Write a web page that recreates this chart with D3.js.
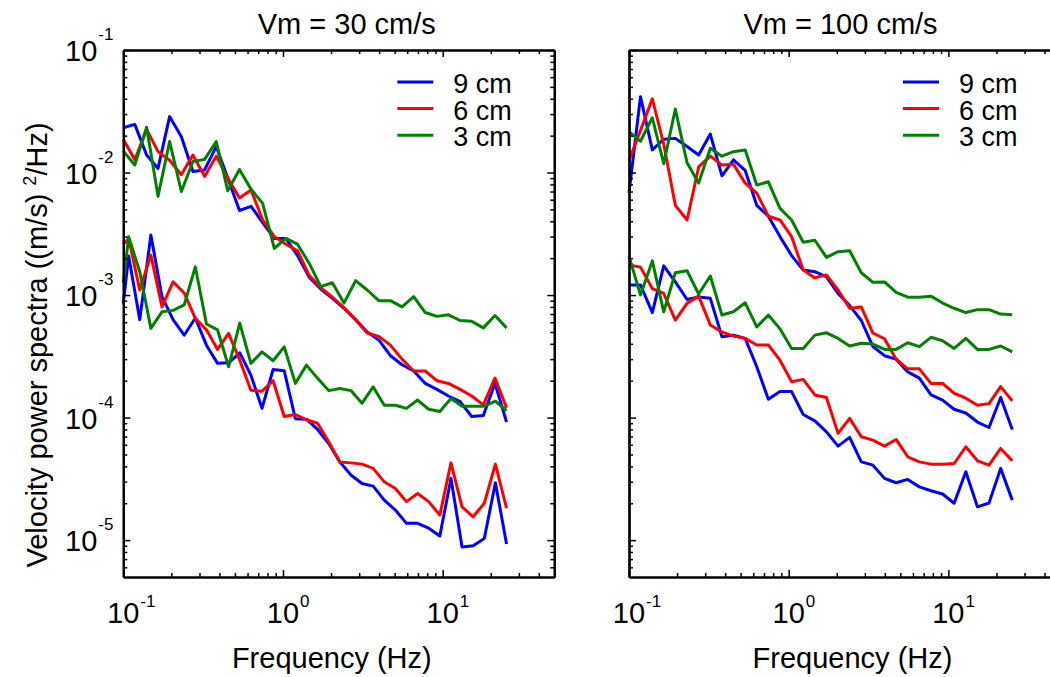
<!DOCTYPE html>
<html><head><meta charset="utf-8">
<script src="https://cdn.jsdelivr.net/npm/d3@7"></script>
<style>
body{margin:0;background:#fff}
text{font-family:"Liberation Sans",Arial,Helvetica,sans-serif;fill:#000}
</style>
</head><body>
<svg id="chart" width="1050" height="677"></svg>
<script>
// ---- data ----
const freq = [0.1,0.118,0.140,0.165,0.195,0.231,0.273,0.323,0.382,0.451,0.534,0.631,0.746,0.882,1.043,1.233,1.458,1.724,2.038,2.409,2.849,3.368,3.981,4.707,5.566,6.581,7.781,9.197,10.87,12.86,15.20,17.97,21.25,25.12];
const freqLow = [0.1,0.108,0.1268,0.1488,0.1747,0.2050,0.2406,0.2825,0.3316,0.3892,0.4568,0.5362,0.6295,0.7389,0.8673,1.018,1.195,1.403,1.647,1.933,2.269,2.663,3.126,3.670,4.308,5.056,5.935,6.966,8.177,9.598,11.27,13.22,15.52,18.22,21.39,25.11];

const seriesNames = ["9 cm","6 cm","3 cm"];
const seriesColors = ["#0000ff","#ff0000","#008000"];
const panelTitles = ["Vm = 30 cm/s","Vm = 100 cm/s"];
const xTickValues = [0.1,1,10];
const xTickExps = ["-1","0","1"];
const yTickValues = [1e-1,1e-2,1e-3,1e-4,1e-5];
const yTickExps = ["-1","-2","-3","-4","-5"];

// Vm = 30 cm/s, upper curves
const blue30Up = [0.0232,0.0247,0.0139,0.0108,0.0286,0.0196,0.0102,0.0105,0.0163,0.0090,0.0049,0.0053,0.0039,0.0029,0.0029,0.0021,0.0014,0.00112,0.00094,0.00078,0.00063,0.00050,0.00043,0.00032,0.00027,0.00024,0.00019,0.00017,0.00015,0.000135,0.000102,0.000104,0.00019,0.000092];
const red30Up = [0.0187,0.0127,0.0225,0.0148,0.0126,0.0096,0.0139,0.0093,0.0136,0.0090,0.0062,0.0072,0.0041,0.0030,0.0026,0.0023,0.00145,0.00115,0.00096,0.00079,0.00063,0.00049,0.00046,0.00039,0.00030,0.00024,0.00024,0.00020,0.00019,0.00017,0.00015,0.000127,0.00021,0.00012];
const green30Up = [0.0150,0.0115,0.0234,0.0064,0.0179,0.0070,0.0123,0.0128,0.0179,0.0071,0.0106,0.0073,0.0056,0.0024,0.0029,0.0026,0.00182,0.00117,0.00126,0.00086,0.00131,0.00110,0.00090,0.00090,0.00080,0.00097,0.00072,0.00067,0.00069,0.00062,0.00061,0.00054,0.00068,0.00054];
// Vm = 30 cm/s, lower curves
const blue30Low = [8.5e-4,2.08e-3,6.3e-4,3.09e-3,9.7e-4,6.3e-4,4.7e-4,6.5e-4,3.9e-4,2.77e-4,2.8e-4,3.38e-4,2.22e-4,1.19e-4,2.47e-4,2.41e-4,9.8e-5,9.7e-5,8.0e-5,6.15e-5,4.35e-5,3.4e-5,2.9e-5,2.76e-5,2.12e-5,1.76e-5,1.37e-5,1.37e-5,1.25e-5,1.08e-5,3.19e-5,8.8e-6,9.0e-6,1.03e-5,2.94e-5,9.3e-6];
const red30Low = [2.6e-3,2.9e-3,1.1e-3,2.12e-3,8.0e-4,1.28e-3,1.04e-3,6.45e-4,5.2e-4,3.6e-4,4.86e-4,2.94e-4,1.67e-4,1.64e-4,2.0e-4,1.02e-4,1.06e-4,9.6e-5,9.0e-5,6.35e-5,4.35e-5,4.27e-5,4.17e-5,3.85e-5,2.99e-5,2.64e-5,2.06e-5,2.4e-5,2.06e-5,1.6e-5,4.27e-5,1.87e-5,1.55e-5,2.0e-5,4.17e-5,1.82e-5];
const green30Low = [1.26e-3,2.99e-3,1.55e-3,5.35e-4,7.3e-4,7.5e-4,8.3e-4,1.7e-3,5.8e-4,5.2e-4,2.6e-4,5.9e-4,2.77e-4,3.44e-4,2.91e-4,3.78e-4,1.9e-4,2.68e-4,2.09e-4,1.66e-4,1.73e-4,1.66e-4,1.31e-4,1.78e-4,1.26e-4,1.26e-4,1.19e-4,1.39e-4,1.17e-4,1.12e-4,1.43e-4,1.24e-4,1.24e-4,1.24e-4,1.36e-4,1.14e-4];
// Vm = 100 cm/s, upper curves
const blue100Up = [0.0068,0.0416,0.0153,0.0187,0.0190,0.0163,0.0139,0.0206,0.0094,0.0127,0.0104,0.0054,0.0044,0.0030,0.0021,0.0016,0.00155,0.00141,0.00103,0.00082,0.00062,0.00038,0.00032,0.00030,0.000236,0.00021,0.000153,0.000139,0.000117,0.000109,0.000092,0.000083,0.000146,0.000080];
const red100Up = [0.0125,0.0220,0.0400,0.0170,0.0054,0.0041,0.0111,0.0136,0.0115,0.0117,0.0082,0.0068,0.0044,0.0041,0.0030,0.00160,0.00138,0.00146,0.00110,0.00078,0.00080,0.00049,0.00044,0.00030,0.00025,0.00025,0.00019,0.00019,0.000158,0.000144,0.000126,0.000130,0.000179,0.000137];
const green100Up = [0.0216,0.0180,0.0280,0.0118,0.0330,0.0120,0.0082,0.0158,0.0136,0.0148,0.0153,0.0079,0.0084,0.0051,0.0041,0.0027,0.0028,0.00203,0.00226,0.00230,0.00152,0.00127,0.00128,0.00105,0.00096,0.00096,0.00098,0.00086,0.00078,0.00072,0.00076,0.00076,0.00070,0.00069];
// Vm = 100 cm/s, lower curves
const blue100Low = [1.21e-3,1.21e-3,7.2e-4,1.73e-3,1.28e-3,9.2e-4,9.65e-4,9.4e-4,4.57e-4,4.7e-4,4.43e-4,2.6e-4,1.41e-4,1.63e-4,1.63e-4,1.06e-4,9.4e-5,7.65e-5,5.85e-5,6.9e-5,4.35e-5,4.09e-5,3.19e-5,2.94e-5,3.13e-5,2.72e-5,2.53e-5,2.38e-5,2.0e-5,3.61e-5,1.87e-5,2.01e-5,3.85e-5,2.12e-5];
const red100Low = [1.76e-3,1.69e-3,1.13e-3,1.03e-3,6.25e-4,8.55e-4,9.8e-4,5.7e-4,5.0e-4,4.62e-4,4.43e-4,3.91e-4,3.91e-4,2.94e-4,1.96e-4,2.05e-4,1.53e-4,1.46e-4,7.43e-5,9.85e-5,6.97e-5,6.55e-5,5.85e-5,6.63e-5,4.79e-5,4.35e-5,4.17e-5,4.17e-5,4.22e-5,5.78e-5,4.44e-5,4.09e-5,5.6e-5,4.44e-5];
const green100Low = [2.08e-3,1.0e-3,1.9e-3,7.3e-4,1.52e-3,1.58e-3,1.02e-3,1.43e-3,6.87e-4,7.3e-4,8.65e-4,5.5e-4,6.87e-4,5.3e-4,3.67e-4,3.67e-4,4.71e-4,4.92e-4,4.43e-4,3.84e-4,4.04e-4,3.98e-4,3.6e-4,3.6e-4,4.08e-4,3.79e-4,4.52e-4,4.24e-4,3.67e-4,4.43e-4,3.6e-4,3.6e-4,3.84e-4,3.44e-4];

// ---- layout ----
const svg = d3.select("#chart");
const topY = 50, bottomY = 577;
const plotW = 431;
const panels = [
  {left:123.3, title:panelTitles[0], titleDx:8, labelDx:-7, showY:true,
   groups:[{f:freq, vals:[blue30Up,red30Up,green30Up]},{f:freqLow, vals:[blue30Low,red30Low,green30Low]}]},
  {left:629, title:panelTitles[1], titleDx:-4, labelDx:8, showY:false,
   groups:[{f:freq, vals:[blue100Up,red100Up,green100Up]},{f:freq, vals:[blue100Low,red100Low,green100Low]}]}
];

const y = d3.scaleLog().domain([5e-6, 0.1]).range([bottomY, topY]);

function minorTicks(lo, hi){
  const out=[];
  for(let e=Math.floor(Math.log10(lo)); e<=Math.ceil(Math.log10(hi)); e++){
    for(let m=2;m<=9;m++){const v=m*Math.pow(10,e); if(v>lo*1.0001 && v<hi*0.9999) out.push(v);}
  }
  return out;
}

panels.forEach(p=>{
  const x = d3.scaleLog().domain([0.1, 50]).range([p.left, p.left+plotW]);
  const g = svg.append("g");
  const right = p.left+plotW;

  // lines
  const line = d3.line().x(d=>x(d[0])).y(d=>y(d[1]));
  for(let s=0;s<3;s++){
    p.groups.forEach(gr=>{
      g.append("path").datum(d3.zip(gr.f, gr.vals[s]))
        .attr("d", line).attr("fill","none")
        .attr("stroke", seriesColors[s]).attr("stroke-width",3)
        .attr("stroke-linejoin","round");
    });
  }

  // axes with inward ticks
  const xMinor = minorTicks(0.1, 50), yMinor = minorTicks(5e-6, 0.1);
  const yMajor = yTickValues;
  const mk = (axisFn, scale, vals, size) => axisFn(scale).tickValues(vals).tickSize(size).tickSizeOuter(0).tickFormat("");
  const axes = [
    [d3.axisBottom, x, `translate(0,${bottomY})`],
    [d3.axisTop, x, `translate(0,${topY})`],
    [d3.axisLeft, y, `translate(${p.left},0)`],
    [d3.axisRight, y, `translate(${right},0)`]
  ];
  axes.forEach(([fn, sc, tr], i)=>{
    const isX = i<2;
    const minorV = isX ? xMinor : yMinor;
    const majorV = isX ? xTickValues : yMajor;
    const a1 = g.append("g").attr("transform", tr).call(mk(fn, sc, majorV, -7));
    const a2 = g.append("g").attr("transform", tr).call(mk(fn, sc, minorV, -4));
    [a1,a2].forEach(a=>{
      a.selectAll(".tick line").attr("stroke","#000").attr("stroke-width",1.5);
      a.select(".domain").attr("stroke","#000").attr("stroke-width",2.2);
    });
  });

  // x tick labels
  xTickValues.forEach((v,i)=>{
    const px = x(v);
    g.append("text").attr("x",px).attr("y",623).attr("text-anchor","middle")
      .attr("font-size",29).text("10");
    g.append("text").attr("x",px+17).attr("y",607).attr("text-anchor","start")
      .attr("font-size",17).text(xTickExps[i]);
  });
  // y tick labels
  if(p.showY){
    yTickValues.forEach((v,i)=>{
      const py = y(v);
      g.append("text").attr("x",p.left-26).attr("y",py+11).attr("text-anchor","end")
        .attr("font-size",29).text("10");
      g.append("text").attr("x",p.left-25).attr("y",py-10).attr("text-anchor","start")
        .attr("font-size",17).text(yTickExps[i]);
    });
  }

  // title and x label
  const cx = (p.left+right)/2;
  g.append("text").attr("x",cx+p.titleDx).attr("y",34).attr("text-anchor","middle")
    .attr("font-size",29).text(p.title);
  g.append("text").attr("x",cx+p.labelDx).attr("y",668).attr("text-anchor","middle")
    .attr("font-size",29).text("Frequency (Hz)");

  // legend
  const lx = right-157;
  seriesNames.forEach((nm,s)=>{
    const ly = 82 + s*26.6;
    g.append("line").attr("x1",lx).attr("x2",lx+36).attr("y1",ly).attr("y2",ly)
      .attr("stroke",seriesColors[s]).attr("stroke-width",3);
    g.append("text").attr("x",lx+56).attr("y",ly+11).attr("font-size",27).text(nm);
  });
});

// y axis label
const yl = svg.append("text").attr("transform","translate(47,345) rotate(-90)")
  .attr("text-anchor","middle").attr("font-size",29);
yl.append("tspan").text("Velocity power spectra ((m/s) ");
yl.append("tspan").attr("font-size",18).attr("dy",-11).text("2");
yl.append("tspan").attr("dy",11).text("/Hz)");
</script>
</body></html>
